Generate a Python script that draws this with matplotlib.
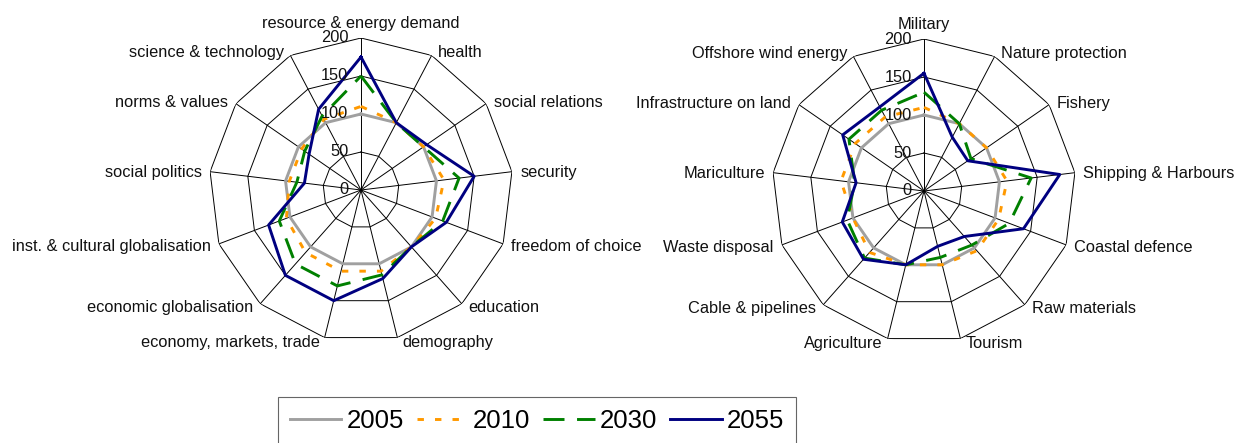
import numpy as np
import matplotlib
matplotlib.use('Agg')
import matplotlib.pyplot as plt

plt.rcParams['font.family'] = ['Liberation Sans', 'DejaVu Sans']

# ---- data ----
years = ['2005', '2010', '2030', '2055']
ticks = [0, 50, 100, 150, 200]

cats_left = ['resource & energy demand', 'health', 'social relations', 'security',
             'freedom of choice', 'education', 'demography', 'economy, markets, trade',
             'economic globalisation', 'inst. & cultural globalisation', 'social politics',
             'norms & values', 'science & technology']
left_2005 = [100, 100, 100, 100, 100, 100, 100, 100, 100, 100, 100, 100, 100]
left_2010 = [110, 100, 100, 110, 105, 100, 110, 110, 110, 105, 95, 95, 105]
left_2030 = [150, 100, 100, 130, 115, 100, 115, 130, 130, 115, 85, 90, 110]
left_2055 = [175, 100, 105, 150, 120, 100, 120, 150, 150, 130, 75, 83, 120]

cats_right = ['Military', 'Nature protection', 'Fishery', 'Shipping & Harbours',
              'Coastal defence', 'Raw materials', 'Tourism', 'Agriculture',
              'Cable & pipelines', 'Waste disposal', 'Mariculture',
              'Infrastructure on land', 'Offshore wind energy']
right_2005 = [100, 100, 100, 100, 100, 100, 100, 100, 100, 100, 100, 100, 100]
right_2010 = [110, 100, 100, 110, 105, 105, 100, 100, 108, 100, 110, 110, 110]
right_2030 = [130, 100, 75, 142, 120, 95, 90, 100, 118, 108, 92, 120, 120]
right_2055 = [155, 80, 70, 180, 140, 80, 75, 100, 120, 115, 90, 130, 125]

# ---- style ----
colors = ['#a0a0a0', '#ff9900', '#008000', '#000080']
dashes = [None, (2.2, 3.8), (7.2, 4.3), None]
FS = 11.8


def radar(ax, cats, series):
    n = len(cats)
    theta = np.arange(n) * 2 * np.pi / n
    closed = np.append(theta, theta[0])
    ax.set_theta_zero_location('N')
    ax.set_theta_direction(-1)
    ax.set_ylim(0, 200)
    ax.axis('off')
    # polygon grid
    for r in ticks[1:]:
        ax.plot(closed, [r] * (n + 1), color='black', lw=0.7, zorder=1)
    for t in theta:
        ax.plot([t, t], [0, 200], color='black', lw=0.7, zorder=1)
    # series
    for vals, c, d, lab in zip(series, colors, dashes, years):
        line, = ax.plot(closed, list(vals) + [vals[0]], color=c, lw=2.1,
                        label=lab, zorder=2)
        if d:
            line.set_dashes(d)
    # category labels
    for t, name in zip(theta, cats):
        s, c = np.sin(t), np.cos(t)
        if abs(s) < 0.1:
            ha, va, dx, dy = 'center', 'bottom', 0, 5
        else:
            ha = 'left' if s > 0 else 'right'
            va = 'center'
            dx = 3 * s + 3 * np.sign(s)
            dy = 3 * c - 0.6
        ax.annotate(name, xy=(t, 200), xytext=(dx, dy), textcoords='offset points',
                    ha=ha, va=va, fontsize=FS, color='#111111', annotation_clip=False)
    # value labels
    for r in ticks:
        ax.annotate(str(r), xy=(0, r), xytext=(-9, 0), textcoords='offset points',
                    ha='right', va='center', fontsize=FS, color='#111111',
                    zorder=5, annotation_clip=False)


fig = plt.figure(figsize=(12.36, 4.43), dpi=100)
W, H = 1236, 443
R = 152
ax1 = fig.add_axes([(361 - R) / W, (H - 190 - R) / H, 2 * R / W, 2 * R / H], projection='polar')
ax2 = fig.add_axes([(924 - R) / W, (H - 191 - R) / H, 2 * R / W, 2 * R / H], projection='polar')

radar(ax1, cats_left, [left_2005, left_2010, left_2030, left_2055])
radar(ax2, cats_right, [right_2005, right_2010, right_2030, right_2055])

handles, labels = ax1.get_legend_handles_labels()
leg = fig.legend(handles, labels, loc='upper center', bbox_to_anchor=(537 / W, 1 - 397 / H),
                 ncol=4, fontsize=18.5, frameon=True, fancybox=False, edgecolor='#404040',
                 handlelength=2.0, handletextpad=0.2, columnspacing=0.5,
                 borderpad=0.45, borderaxespad=0)
leg.get_frame().set_linewidth(0.8)

fig.savefig('out.png', dpi=100)
